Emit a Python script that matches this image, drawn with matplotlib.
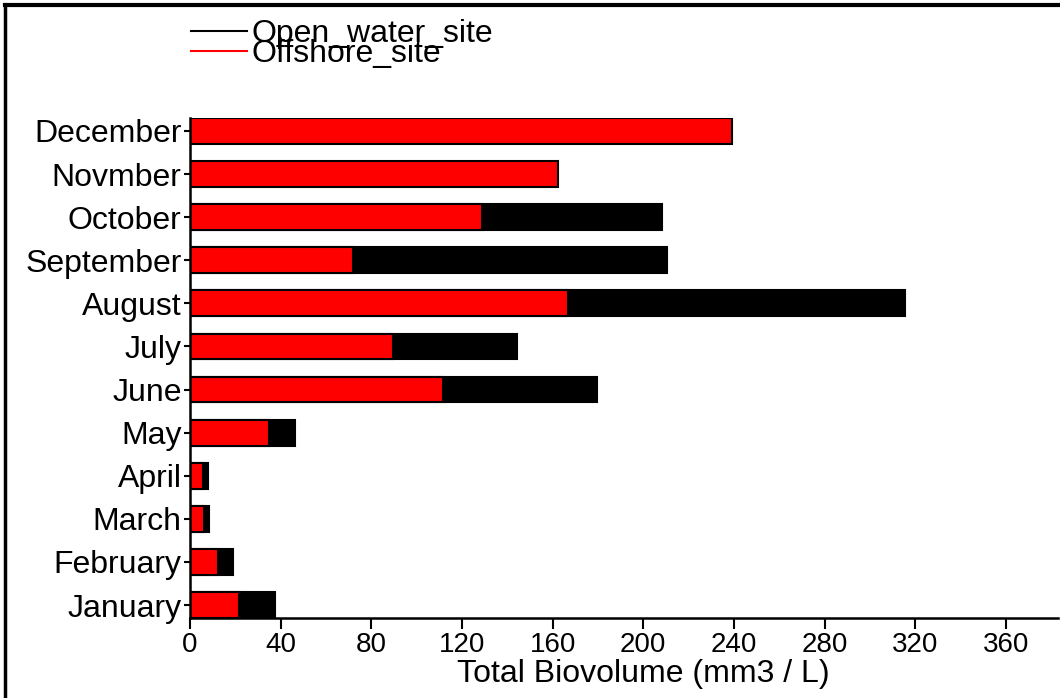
import matplotlib.pyplot as plt
from matplotlib.lines import Line2D
import numpy as np

months = ['January', 'February', 'March', 'April', 'May', 'June', 'July',
          'August', 'September', 'October', 'Novmber', 'December']
open_water = [37.5, 19, 8.4, 7.9, 46.4, 179.7, 144.4, 315.7, 210.6, 208.4, 0, 0]
offshore = [21.6, 12.4, 6.2, 5.7, 34.9, 111.7, 89.6, 166.9, 72, 128.9, 162.5, 239.3]
xticks = [0, 40, 80, 120, 160, 200, 240, 280, 320, 360]

plt.rcParams['font.family'] = ['Liberation Sans', 'DejaVu Sans']

fig = plt.figure(figsize=(10.6, 6.98), dpi=100)
ax = fig.add_axes([190 / 1060, 1 - 618 / 698, 868 / 1060, 500 / 698])

y = np.arange(len(months))
ax.barh(y, open_water, height=0.6, color='black', edgecolor='black', linewidth=1.5)
ax.barh(y, offshore, height=0.6, color='#ff0000', edgecolor='black', linewidth=1.5)

ax.set_ylim(-0.3, 11.3)
ax.set_xlim(0, 383)
ax.set_yticks(y)
ax.set_yticklabels(months, fontsize=23)
ax.set_xticks(xticks)
ax.set_xticklabels([str(t) for t in xticks], fontsize=20)
ax.set_xlabel('Total Biovolume (mm3 / L)', fontsize=23, labelpad=1, x=0.522)
ax.tick_params(axis='x', length=8, width=1.5, pad=2)
ax.tick_params(axis='y', length=4, width=1.5, pad=2)
for s in ['top', 'right']:
    ax.spines[s].set_visible(False)
for s in ['left', 'bottom']:
    ax.spines[s].set_linewidth(1.8)

handles = [Line2D([], [], color='black', lw=1.5), Line2D([], [], color='#ff0000', lw=1.5)]
fig.legend(handles, ['Open_water_site', 'Offshore_site'], loc='upper left',
           bbox_to_anchor=(178 / 1060, 1 - 6 / 698), frameon=False, fontsize=23,
           labelspacing=-0.3, handlelength=1.75, handletextpad=0.15, borderaxespad=0)

# figure frame (top and left edges visible)
fig.add_artist(Line2D([5 / 1060, 5 / 1060], [0, 1 - 5 / 698], color='black', lw=2.5))
fig.add_artist(Line2D([5 / 1060, 1], [1 - 5 / 698, 1 - 5 / 698], color='black', lw=3))

fig.savefig('out.png', dpi=100)
